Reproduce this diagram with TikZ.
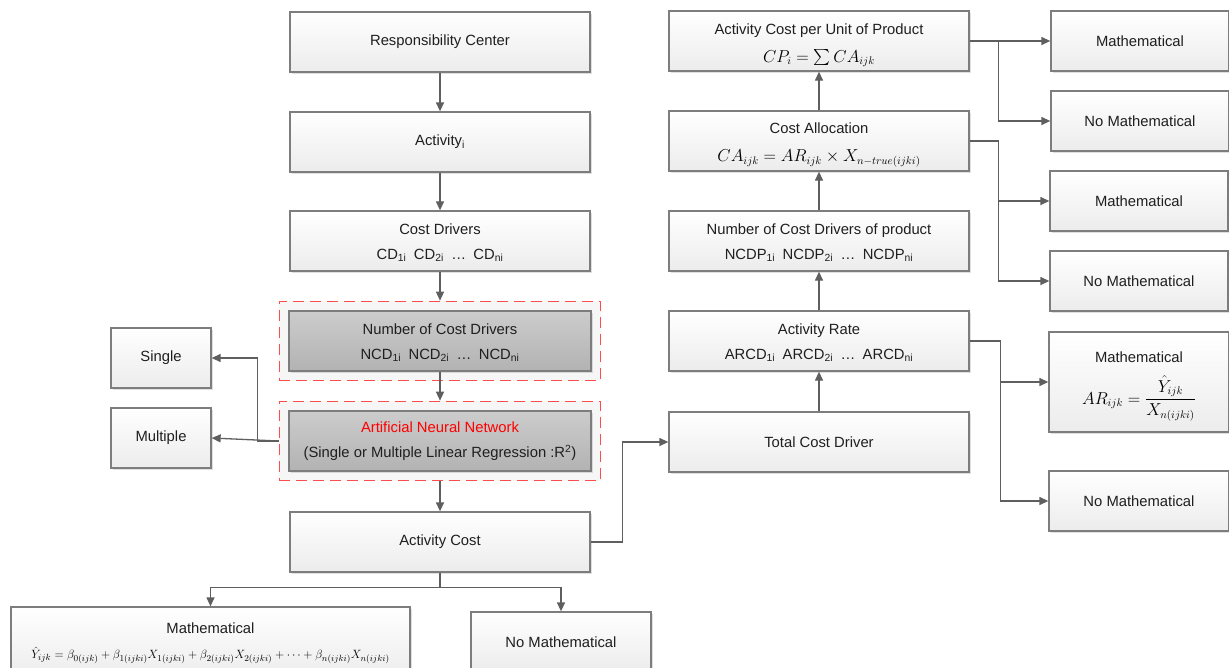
\documentclass[tikz,border=0pt]{standalone}
\usepackage{amsmath,amssymb}
\usepackage{fontspec}
\setmainfont{Liberation Sans}
\usetikzlibrary{arrows.meta, positioning, fit, backgrounds, shadows}

\definecolor{linegray}{RGB}{95,95,95}
\definecolor{boxline}{RGB}{125,125,125}

\begin{document}
\begin{tikzpicture}[x=1pt, y=-1pt,
  every node/.style={font=\fontsize{14.8}{17}\selectfont, text=black!88},
  box/.style={draw=boxline, line width=1.3pt, top color=white, bottom color=gray!15,
    minimum width=300pt, minimum height=60pt, align=center,
    drop shadow={shadow xshift=1.5pt, shadow yshift=-1.5pt, opacity=0.25, fill=gray}},
  darkbox/.style={box, top color=gray!40, bottom color=gray!60, minimum width=302pt},
  sidebox/.style={box, minimum width=178pt},
  dashbox/.style={draw=red!70, dash pattern=on 11pt off 6pt, line width=1.3pt,
    fill=gray!7, inner xsep=9pt, inner ysep=9pt},
  arr/.style={draw=linegray, line width=1.3pt, -{Triangle[length=9pt,width=8pt]}}]
  \clip (0,0) rectangle (1229,667);

  % left column
  \node[box] (resp) at (440,42) {Responsibility Center};
  \node[box] (act) at (440,142) {Activity\textsubscript{i}};
  \node[box] (cd) at (440,241) {\rule{0pt}{14pt}Cost Drivers\\[8pt]
    CD\textsubscript{1i}\enspace CD\textsubscript{2i}\enspace \dots\enspace CD\textsubscript{ni}};
  \node[darkbox] (ncd) at (440,341) {\rule{0pt}{14pt}Number of Cost Drivers\\[8pt]
    NCD\textsubscript{1i}\enspace NCD\textsubscript{2i}\enspace \dots\enspace NCD\textsubscript{ni}};
  \node[darkbox] (ann) at (440,441) {\textcolor{red}{Artificial Neural Network}\\[8pt]
    (Single or Multiple Linear Regression :R\textsuperscript{2})};
  \node[box] (actcost) at (440,542) {Activity Cost};
  \node[box, minimum width=100pt] (single) at (161,358) {Single};
  \node[box, minimum width=100pt] (multiple) at (161,438) {Multiple};
  \node[box, minimum width=399pt, minimum height=72pt, inner xsep=2pt] (mathb) at (210.5,643) {Mathematical\\[8pt]
    \fontsize{13}{15}\selectfont\color{black}
    $\hat{Y}_{ijk}=\beta_{0(ijk)}+\beta_{1(ijki)}X_{1(ijki)}+\beta_{2(ijki)}X_{2(ijki)}+\dots+\beta_{n(ijki)}X_{n(ijki)}$};
  \node[box, minimum width=180pt] (nomathb) at (561,642) {No Mathematical};

  \begin{scope}[on background layer]
    \node[dashbox, fit=(ncd)] (ncdfit) {};
    \node[dashbox, fit=(ann)] (annfit) {};
  \end{scope}

  % right column
  \node[box] (cpu) at (819,41) {\rule{0pt}{19pt}Activity Cost per Unit of Product\\[11pt]
    \fontsize{16}{18}\selectfont\color{black} $CP_i=\sum CA_{ijk}$};
  \node[box] (alloc) at (819,141) {\rule{0pt}{19pt}Cost Allocation\\[11pt]
    \fontsize{16}{18}\selectfont\color{black} $CA_{ijk}=AR_{ijk}\times X_{n-true(ijki)}$};
  \node[box] (ncdp) at (819,241) {\rule{0pt}{14pt}Number of Cost Drivers of product\\[8pt]
    NCDP\textsubscript{1i}\enspace NCDP\textsubscript{2i}\enspace \dots\enspace NCDP\textsubscript{ni}};
  \node[box] (rate) at (819,341) {\rule{0pt}{14pt}Activity Rate\\[8pt]
    ARCD\textsubscript{1i}\enspace ARCD\textsubscript{2i}\enspace \dots\enspace ARCD\textsubscript{ni}};
  \node[box] (tcd) at (819,442) {Total Cost Driver};

  % outcome boxes
  \node[sidebox] (math1) at (1140,41) {Mathematical};
  \node[sidebox] (nomath1) at (1140,121) {No Mathematical};
  \node[sidebox] (math2) at (1139,201) {Mathematical};
  \node[sidebox] (nomath2) at (1139,281) {No Mathematical};
  \node[sidebox, minimum width=180pt, minimum height=100pt] (math3) at (1139,382) {\rule{0pt}{20pt}Mathematical\\[12pt]
    \fontsize{16}{18}\selectfont\color{black} $AR_{ijk}=\dfrac{\hat{Y}_{ijk}}{X_{n(ijki)}}$};
  \node[sidebox, minimum width=180pt] (nomath3) at (1139,501) {No Mathematical};

  % connectors
  \draw[arr] (resp) -- (act);
  \draw[arr] (act) -- (cd);
  \draw[arr] (cd) -- (ncdfit);
  \draw[arr] (ncd) -- (annfit);
  \draw[arr] (annfit) -- (actcost);
  \draw[arr] (annfit.west) -- ++(-21,0) |- (single.east);
  \draw[arr] (annfit.west) -- (multiple.east);
  \draw[arr] (actcost.south) -- ++(0,15) -| (mathb.north);
  \draw[arr] (actcost.south) -- ++(0,15) -| (nomathb.north);
  \draw[arr] (actcost.east) -- ++(32,0) |- (tcd.west);
  \draw[arr] (tcd) -- (rate);
  \draw[arr] (rate) -- (ncdp);
  \draw[arr] (ncdp) -- (alloc);
  \draw[arr] (alloc) -- (cpu);
  \draw[arr] (cpu.east) -- (math1.west);
  \draw[arr] (cpu.east) -- ++(29,0) |- (nomath1.west);
  \draw[arr] (alloc.east) -- ++(29,0) |- (math2.west);
  \draw[arr] (alloc.east) -- ++(29,0) |- (nomath2.west);
  \draw[arr] (rate.east) -- ++(31,0) |- (math3.west);
  \draw[arr] (rate.east) -- ++(31,0) |- (nomath3.west);
\end{tikzpicture}
\end{document}
